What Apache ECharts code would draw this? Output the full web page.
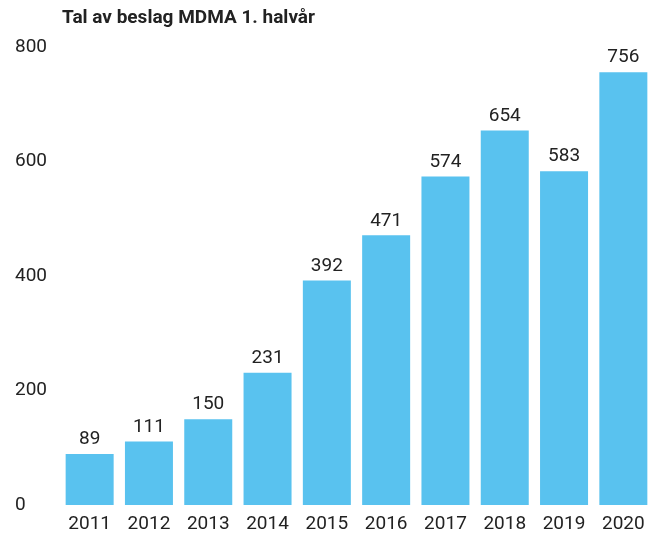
<!DOCTYPE html>
<html><head><meta charset="utf-8">
<script src="https://cdn.jsdelivr.net/npm/echarts@6/dist/echarts.min.js"></script>
<style>html,body{margin:0;padding:0;background:#fff}#c{width:653px;height:536px}</style>
</head><body><div id="c"></div>
<script>
const years = ['2011','2012','2013','2014','2015','2016','2017','2018','2019','2020'];
const seizures = [89,111,150,231,392,471,574,654,583,756];
const yTicks = [0,200,400,600,800];
const titleText = 'Tal av beslag MDMA 1. halvår';

const chart = echarts.init(document.getElementById('c'), null, {renderer:'canvas'});
chart.setOption({
  animation:false,
  backgroundColor:'#fff',
  title:{text:titleText,left:57,top:4,textStyle:{fontFamily:'Roboto',fontWeight:'bold',fontSize:19,color:'#222'}},
  grid:{left:60,top:47,width:595,bottom:31,containLabel:false},
  xAxis:{type:'category',data:years,axisLine:{show:false},axisTick:{show:false},
    axisLabel:{fontFamily:'Roboto',fontSize:19,color:'#222',margin:10}},
  yAxis:{type:'value',min:yTicks[0],max:yTicks[yTicks.length-1],interval:200,splitLine:{show:false},
    axisLabel:{fontFamily:'Roboto',fontSize:19,color:'#222',align:'left',margin:45}},
  series:[{type:'bar',data:seizures,barWidth:48,itemStyle:{color:'#59C2EF'},
    label:{show:true,position:'top',distance:5,fontFamily:'Roboto',fontSize:19,color:'#222'}}]
});
</script></body></html>
